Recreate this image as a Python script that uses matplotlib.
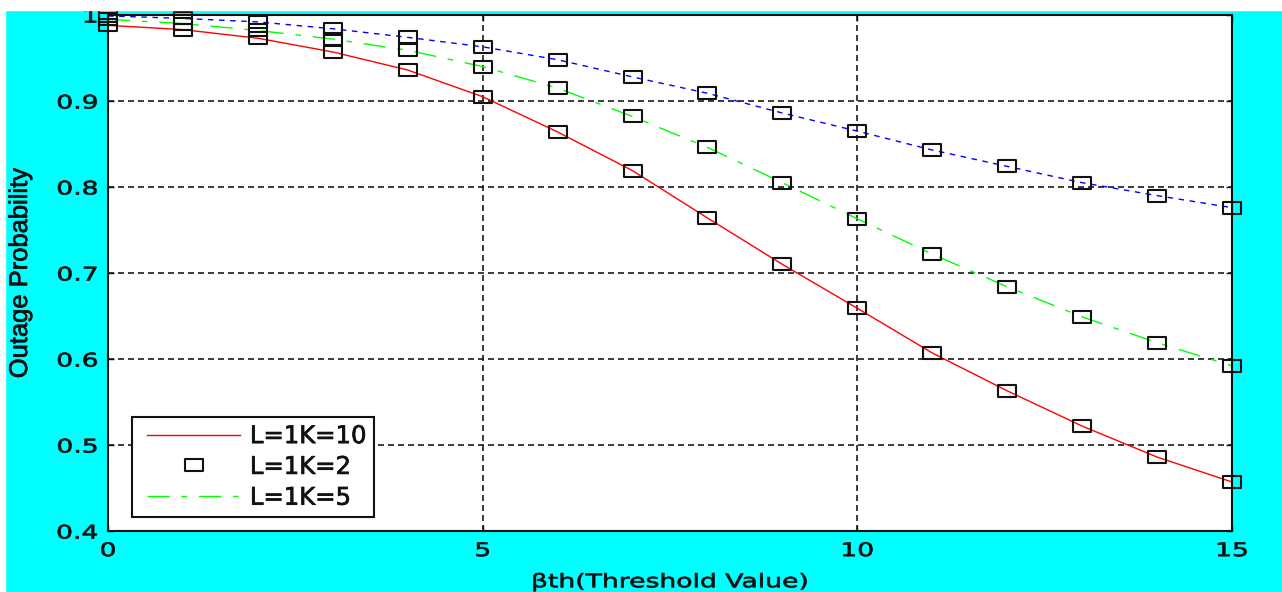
import numpy as np
import matplotlib
matplotlib.use('Agg')
import matplotlib.pyplot as plt
from matplotlib.path import Path
from matplotlib.patches import Rectangle
from matplotlib.patheffects import AbstractPathEffect
import matplotlib.patheffects as pe
from matplotlib.transforms import Affine2D
from matplotlib.legend_handler import HandlerLine2D
from matplotlib.lines import Line2D

# ---------------- data ----------------
threshold = [0, 1, 2, 3, 4, 5, 6, 7, 8, 9, 10, 11, 12, 13, 14, 15]
outage_k10 = [0.988, 0.983, 0.973, 0.957, 0.936, 0.905, 0.864, 0.819,
              0.764, 0.710, 0.659, 0.607, 0.563, 0.522, 0.486, 0.457]
outage_k5 = [0.995, 0.990, 0.982, 0.972, 0.959, 0.940, 0.915, 0.882,
             0.846, 0.805, 0.763, 0.722, 0.684, 0.649, 0.619, 0.592]
outage_k2 = [0.999, 0.996, 0.992, 0.984, 0.974, 0.963, 0.948, 0.928,
             0.909, 0.886, 0.865, 0.843, 0.824, 0.805, 0.790, 0.776]
xtick_values = [0, 5, 10, 15]
xtick_labels = ['0', '5', '10', '15']
ytick_values = [0.4, 0.5, 0.6, 0.7, 0.8, 0.9, 1.0]
ytick_labels = ['0.4', '0.5', '0.6', '0.7', '0.8', '0.9', '1']
legend_labels = ['L=1K=10', 'L=1K=2', 'L=1K=5']
x_label = 'βth(Threshold Value)'
y_label = 'Outage Probability'

TXT = '#111111'


class HStretch(AbstractPathEffect):
    """Stretch text glyphs horizontally (the reference image is stretched)."""
    def __init__(self, sx=1.4, anchor='center', stroke=0.5):
        super().__init__()
        self.sx = sx
        self.anchor = anchor
        self.stroke = stroke

    def draw_path(self, renderer, gc, tpath, affine, rgbFace=None):
        ext = tpath.get_extents(affine)
        if self.anchor == 'left':
            x0 = ext.x0
        elif self.anchor == 'right':
            x0 = ext.x1
        else:
            x0 = 0.5 * (ext.x0 + ext.x1)
        t = affine + Affine2D().translate(-x0, 0).scale(self.sx, 1.0).translate(x0, 0)
        gc0 = renderer.new_gc()
        gc0.copy_properties(gc)
        gc0.set_linewidth(self.stroke)
        if rgbFace is not None:
            gc0.set_foreground(rgbFace)
        renderer.draw_path(gc0, tpath, t, rgbFace)
        gc0.restore()


W, H = 1282, 592
fig = plt.figure(figsize=(W / 100, H / 100), dpi=100, facecolor='#00FFFF')
ax = fig.add_axes([108 / W, 61 / H, 1124 / W, 516 / H])
ax.set_facecolor('white')

rect = Path([(-1.45, -1), (1.45, -1), (1.45, 1), (-1.45, 1), (-1.45, -1)],
            [Path.MOVETO, Path.LINETO, Path.LINETO, Path.LINETO, Path.CLOSEPOLY])
sq_kw = dict(ls='none', marker=rect, ms=13.0, mfc='none', mec='#111111',
             mew=1.5, clip_on=False, zorder=4)

red_line, = ax.plot(threshold, outage_k10, color='#FF0000', lw=1.0,
                    label=legend_labels[0], zorder=2)
sq_k2, = ax.plot(threshold, outage_k2, label=legend_labels[1], **sq_kw)
green_line, = ax.plot(threshold, outage_k5, color='#00FF00', lw=1.0,
                      ls=(0, (16, 8.5, 4, 8.5)), label=legend_labels[2], zorder=2)
ax.plot(threshold, outage_k2, color='#0000FF', lw=1.0, ls=(0, (4, 4)), zorder=2)
ax.plot(threshold, outage_k10, **sq_kw)
ax.plot(threshold, outage_k5, **sq_kw)

ax.set_xlim(0, 15)
ax.set_ylim(0.4, 1.0)
ax.set_xticks(xtick_values, xtick_labels)
ax.set_yticks(ytick_values, ytick_labels)
ax.set_axisbelow(True)
ax.grid(True, color='#1a1a1a', lw=1.2, ls=(0, (3.6, 2.4)))
for s in ax.spines.values():
    s.set_linewidth(1.5)
    s.set_color(TXT)
ax.tick_params(direction='in', length=4, width=1, top=True, right=True,
               labelsize=13.5, pad=7.3, colors=TXT)

ax.set_xlabel(x_label, fontsize=13.5, color=TXT)
ax.xaxis.set_label_coords(0.5, -0.080)
ax.set_ylabel(y_label, fontsize=18.4, color=TXT,
              family=['Liberation Sans Narrow', 'Liberation Sans'])
ax.yaxis.set_label_coords((32 - 108) / 1124, 0.5)
ax.yaxis.label.set_path_effects([pe.withStroke(linewidth=0.5, foreground=TXT)])

for t in ax.get_yticklabels():
    t.set_path_effects([HStretch(1.42, 'right')])
for t in ax.get_xticklabels():
    t.set_path_effects([HStretch(1.42, 'center')])
ax.xaxis.label.set_path_effects([HStretch(1.42, 'center')])

leg = ax.legend(handles=[red_line, sq_k2, green_line], labels=legend_labels,
                loc='lower left', bbox_to_anchor=(24 / 1124, 14 / 516),
                borderaxespad=0, fontsize=17.5, handlelength=4.15,
                handletextpad=0.4, borderpad=0.3, labelspacing=0.28,
                fancybox=False, framealpha=1, edgecolor=TXT,
                handler_map={Line2D: HandlerLine2D(xpad=0.32)})
leg.get_frame().set_linewidth(1.5)
for t in leg.get_texts():
    t.set_color(TXT)
    t.set_path_effects([pe.withStroke(linewidth=0.5, foreground=TXT)])

# white borders of the original screenshot
fig.add_artist(Rectangle((0, (H - 10) / H), 1, 10 / H, transform=fig.transFigure,
                         color='white', zorder=10))
fig.add_artist(Rectangle((0, 0), 5 / W, 1, transform=fig.transFigure,
                         color='white', zorder=10))

fig.savefig('out.png', dpi=100, facecolor=fig.get_facecolor())
